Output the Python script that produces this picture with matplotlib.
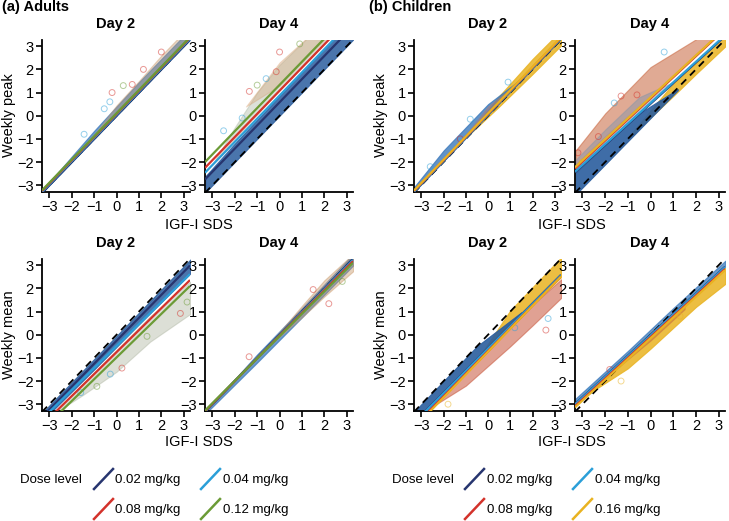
import matplotlib
matplotlib.use("Agg")
import matplotlib.pyplot as plt
from matplotlib.lines import Line2D
import numpy as np

plt.rcParams['font.family'] = ['Liberation Sans', 'DejaVu Sans']
plt.rcParams['axes.unicode_minus'] = True

# ---------------- data ----------------
ADULT_DOSES = ["0.02 mg/kg", "0.04 mg/kg", "0.08 mg/kg", "0.12 mg/kg"]
CHILD_DOSES = ["0.02 mg/kg", "0.04 mg/kg", "0.08 mg/kg", "0.16 mg/kg"]
ADULT_COLORS = ["#27356f", "#2b9fd8", "#d3322b", "#6b9b36"]
CHILD_COLORS = ["#27356f", "#2b9fd8", "#d3322b", "#e9b321"]
TICKS = [-3, -2, -1, 0, 1, 2, 3]
TICK_LABELS = ["\u22123", "\u22122", "\u22121", "0", "1", "2", "3"]

# regression lines (slope, intercept) per dose
A_PEAK_D2_SLOPE = [1.00, 1.00, 1.00, 1.00]
A_PEAK_D2_INTERCEPT = [0.00, 0.04, 0.08, 0.11]
A_PEAK_D4_SLOPE = [1.00, 1.00, 1.00, 1.00]
A_PEAK_D4_INTERCEPT = [0.58, 0.87, 1.08, 1.33]
A_MEAN_D2_SLOPE = [0.99, 0.947, 0.948, 0.94]
A_MEAN_D2_INTERCEPT = [-0.26, -0.49, -0.75, -0.98]
A_MEAN_D4_SLOPE = [1.00, 0.99, 0.98, 0.965]
A_MEAN_D4_INTERCEPT = [0.00, -0.02, -0.04, -0.06]

C_PEAK_D2_SLOPE = [1.00, 1.00, 1.00, 1.00]
C_PEAK_D2_INTERCEPT = [0.04, 0.05, 0.08, 0.10]
C_PEAK_D4_SLOPE = [0.89, 0.89, 0.91, 0.906]
C_PEAK_D4_INTERCEPT = [0.52, 0.55, 0.75, 0.79]
C_MEAN_D2_SLOPE = [0.964, 0.964, 0.98, 0.988]
C_MEAN_D2_INTERCEPT = [-0.58, -0.60, -0.70, -0.73]
C_MEAN_D4_SLOPE = [0.896, 0.896, 0.896, 0.896]
C_MEAN_D4_INTERCEPT = [-0.01, -0.03, -0.10, -0.15]

# scatter clouds as envelopes: (colour, alpha, x, lower y, upper y)
A_PEAK_D2_CLOUD = [
    ("#3a78bb", 0.75, [-3.3, -1.0, 1.0, 3.3], [-3.3, -1.0, 1.0, 3.3], [-3.2, -0.65, 1.45, 3.75]),
    ("#c99a6c", 0.40, [-1.5, 0.0, 1.0, 2.0, 3.3], [-1.45, 0.05, 1.05, 2.05, 3.35], [-1.45, 0.45, 1.5, 2.6, 3.9]),
]
A_PEAK_D4_CLOUD = [
    ("#a9b5a0", 0.40, [-3.0, -2.0, -1.0, 0.0, 1.5, 3.3], [-2.1, -1.0, 0.05, 1.1, 2.6, 4.4], [-2.1, -0.5, 1.0, 2.2, 3.6, 4.8]),
    ("#d6a070", 0.35, [-1.5, 0.0, 1.5, 3.3], [0.4, 1.3, 2.8, 4.5], [0.4, 2.3, 3.6, 4.8]),
    ("#2a5d9e", 0.85, [-3.3, -2.0, 0.0, 2.0, 3.3], [-3.3, -2.0, 0.0, 2.0, 3.3], [-2.6, -1.2, 0.85, 2.9, 4.2]),
]
A_MEAN_D2_CLOUD = [
    ("#a8b09a", 0.40, [-2.8, -1.5, 0.0, 1.5, 3.3], [-3.4, -2.6, -1.6, -0.3, 0.9], [-3.4, -2.1, -0.65, 0.8, 2.3]),
    ("#2a5d9e", 0.85, [-3.3, -1.0, 1.0, 3.3], [-3.7, -1.5, 0.45, 2.65], [-3.35, -1.05, 0.95, 3.25]),
]
A_MEAN_D4_CLOUD = [
    ("#3a78bb", 0.75, [-3.3, -1.0, 1.0, 3.3], [-3.4, -1.2, 0.75, 3.0], [-3.3, -0.85, 1.15, 3.5]),
    ("#c99a6c", 0.45, [-0.5, 1.0, 2.0, 3.3], [-0.5, 0.75, 1.65, 2.75], [-0.45, 1.25, 2.35, 3.5]),
]
C_PEAK_D2_CLOUD = [
    ("#e9b321", 0.85, [-1.0, 0.5, 2.0, 3.3], [-0.95, 0.4, 1.8, 3.05], [-0.95, 0.85, 2.45, 3.7]),
    ("#3a78bb", 0.80, [-3.3, -2.0, 0.0, 1.5], [-3.25, -1.95, 0.05, 1.55], [-3.05, -1.5, 0.5, 1.6]),
    ("#b07a70", 0.45, [-1.3, 0.0, 1.0], [-1.2, 0.1, 1.1], [-1.2, 0.4, 1.15]),
]
C_PEAK_D4_CLOUD = [
    ("#e9b321", 0.85, [-1.0, 1.0, 2.0, 3.3], [-1.0, 0.85, 1.8, 3.0], [-0.95, 1.4, 2.3, 3.5]),
    ("#c8643c", 0.55, [-3.3, -2.0, 0.0, 2.0, 3.3], [-2.1, -0.9, 0.85, 2.6, 3.8], [-1.5, 0.1, 2.1, 3.3, 4.2]),
    ("#8896a8", 0.50, [-3.3, -2.0, -0.5, 1.0], [-2.4, -1.25, 0.1, 1.4], [-1.9, -0.6, 0.8, 1.45]),
    ("#2a5d9e", 0.90, [-3.3, -2.0, -0.5, 1.2], [-3.4, -2.1, -0.6, 1.1], [-2.45, -1.25, 0.1, 1.15]),
]
C_MEAN_D2_CLOUD = [
    ("#e9b321", 0.85, [-0.5, 1.0, 2.0, 3.3], [-1.2, 0.3, 1.3, 2.5], [-1.1, 1.05, 2.05, 3.35]),
    ("#c8553a", 0.55, [-2.5, -1.0, 0.0, 1.0, 2.0, 3.3], [-3.1, -2.2, -1.35, -0.5, 0.4, 1.6], [-3.1, -1.6, -0.7, 0.3, 1.3, 2.4]),
    ("#2a5d9e", 0.90, [-3.3, -2.0, -0.5, 1.5], [-3.8, -2.55, -1.1, 0.87], [-3.3, -2.0, -0.5, 0.97]),
]
C_MEAN_D4_CLOUD = [
    ("#e9b321", 0.85, [-2.5, -1.0, 0.0, 1.0, 2.0, 3.3], [-2.4, -1.45, -0.6, 0.3, 1.2, 2.2], [-2.4, -0.95, -0.1, 0.85, 1.7, 2.9]),
    ("#c8703a", 0.50, [-1.8, 0.0, 1.5], [-1.7, -0.25, 1.1], [-1.7, 0.1, 1.4]),
    ("#3a78bb", 0.75, [-3.3, -1.0, 1.0, 3.3], [-3.0, -0.9, 0.9, 2.95], [-2.75, -0.7, 1.15, 3.2]),
]

# isolated hollow circles: x, y, dose index
A_PEAK_D2_PTS_X = [-1.45, -0.2, 0.3, 1.2, -0.55, -0.3, 2.0, 0.7]
A_PEAK_D2_PTS_Y = [-0.8, 1.0, 1.3, 2.0, 0.3, 0.6, 2.75, 1.35]
A_PEAK_D2_PTS_D = [1, 2, 3, 2, 1, 1, 2, 2]
A_PEAK_D4_PTS_X = [-2.5, -1.67, -1.35, -1.0, -0.15, 0.0, -0.6, 0.9]
A_PEAK_D4_PTS_Y = [-0.65, -0.1, 1.05, 1.32, 1.9, 2.75, 1.6, 3.1]
A_PEAK_D4_PTS_D = [1, 1, 2, 3, 2, 2, 1, 3]
A_MEAN_D2_PTS_X = [-0.28, -0.88, 0.24, 1.36, 2.85, 3.15, -1.6]
A_MEAN_D2_PTS_Y = [-1.7, -2.23, -1.44, -0.07, 0.92, 1.41, -2.5]
A_MEAN_D2_PTS_D = [1, 3, 2, 3, 2, 3, 1]
A_MEAN_D4_PTS_X = [-1.36, 2.2, 2.8, 1.5]
A_MEAN_D4_PTS_Y = [-0.95, 1.34, 2.3, 1.95]
A_MEAN_D4_PTS_D = [2, 2, 3, 2]
C_PEAK_D2_PTS_X = [-1.25, -0.8, 0.9, -2.6]
C_PEAK_D2_PTS_Y = [-1.0, -0.15, 1.45, -2.2]
C_PEAK_D2_PTS_D = [2, 1, 1, 1]
C_PEAK_D4_PTS_X = [-3.2, -2.3, -1.6, 0.6, -0.6, -3.0, -1.3]
C_PEAK_D4_PTS_Y = [-1.6, -0.9, 0.55, 2.75, 0.9, -2.0, 0.85]
C_PEAK_D4_PTS_D = [2, 2, 1, 1, 2, 3, 2]
C_MEAN_D2_PTS_X = [2.7, 2.6, 1.2, -1.8]
C_MEAN_D2_PTS_Y = [0.7, 0.2, 0.3, -3.0]
C_MEAN_D2_PTS_D = [1, 2, 1, 3]
C_MEAN_D4_PTS_X = [-1.3, -1.8, 1.3, -2.6]
C_MEAN_D4_PTS_Y = [-2.0, -1.5, 0.8, -2.4]
C_MEAN_D4_PTS_D = [3, 2, 3, 1]

XLIM = (-3.33, 3.28)
YLIM = (-3.28, 3.29)

fig = plt.figure(figsize=(7.29, 5.21), dpi=100)
W, H = 729.0, 521.0


def ax_at(x0, y0, x1, y1):
    return fig.add_axes([x0 / W, 1 - y1 / H, (x1 - x0) / W, (y1 - y0) / H])


def panel(ax, title, cloud, px, py, pd, slopes, ints, colors, ylabel=None):
    for col, al, xs, lo, hi in cloud:
        ax.fill_between(xs, lo, hi, color=col, alpha=al, linewidth=0.8,
                        edgecolor=col, zorder=1)
    ax.scatter(px, py, s=18, facecolors="none",
               edgecolors=[colors[d] for d in pd], linewidths=0.7, alpha=0.5, zorder=2)
    xx = np.array(XLIM)
    ax.plot(xx, xx, color="black", lw=1.3, ls=(0, (4, 3)), zorder=3)
    for s, b, c in zip(slopes, ints, colors):
        ax.plot(xx, s * xx + b, color=c, lw=1.6, zorder=4, solid_capstyle="butt")
    ax.set_xlim(XLIM)
    ax.set_ylim(YLIM)
    ax.set_xticks(TICKS)
    ax.set_xticklabels(TICK_LABELS)
    ax.set_yticks(TICKS)
    ax.set_yticklabels(TICK_LABELS)
    for s in ["top", "right"]:
        ax.spines[s].set_visible(False)
    for s in ["left", "bottom"]:
        ax.spines[s].set_linewidth(1.3)
    ax.tick_params(direction="out", length=4, width=1.2, labelsize=10.5, pad=2)
    ax.set_title(title, fontsize=10.5, fontweight="bold", pad=8)
    if ylabel:
        ax.set_ylabel(ylabel, fontsize=10.5, labelpad=1)
    ax.patch.set_alpha(0)


# Adults
a1 = ax_at(42, 39.5, 190, 191.7)
a2 = ax_at(205, 39.5, 353, 191.7)
a3 = ax_at(42, 258.5, 190, 410.7)
a4 = ax_at(205, 258.5, 353, 410.7)
panel(a1, "Day 2", A_PEAK_D2_CLOUD, A_PEAK_D2_PTS_X, A_PEAK_D2_PTS_Y, A_PEAK_D2_PTS_D,
      A_PEAK_D2_SLOPE, A_PEAK_D2_INTERCEPT, ADULT_COLORS, "Weekly peak")
panel(a2, "Day 4", A_PEAK_D4_CLOUD, A_PEAK_D4_PTS_X, A_PEAK_D4_PTS_Y, A_PEAK_D4_PTS_D,
      A_PEAK_D4_SLOPE, A_PEAK_D4_INTERCEPT, ADULT_COLORS)
panel(a3, "Day 2", A_MEAN_D2_CLOUD, A_MEAN_D2_PTS_X, A_MEAN_D2_PTS_Y, A_MEAN_D2_PTS_D,
      A_MEAN_D2_SLOPE, A_MEAN_D2_INTERCEPT, ADULT_COLORS, "Weekly mean")
panel(a4, "Day 4", A_MEAN_D4_CLOUD, A_MEAN_D4_PTS_X, A_MEAN_D4_PTS_Y, A_MEAN_D4_PTS_D,
      A_MEAN_D4_SLOPE, A_MEAN_D4_INTERCEPT, ADULT_COLORS)

# Children
c1 = ax_at(414, 39.5, 561, 191.7)
c2 = ax_at(575, 39.5, 725, 191.7)
c3 = ax_at(414, 258.5, 561, 410.7)
c4 = ax_at(575, 258.5, 725, 410.7)
panel(c1, "Day 2", C_PEAK_D2_CLOUD, C_PEAK_D2_PTS_X, C_PEAK_D2_PTS_Y, C_PEAK_D2_PTS_D,
      C_PEAK_D2_SLOPE, C_PEAK_D2_INTERCEPT, CHILD_COLORS, "Weekly peak")
panel(c2, "Day 4", C_PEAK_D4_CLOUD, C_PEAK_D4_PTS_X, C_PEAK_D4_PTS_Y, C_PEAK_D4_PTS_D,
      C_PEAK_D4_SLOPE, C_PEAK_D4_INTERCEPT, CHILD_COLORS)
panel(c3, "Day 2", C_MEAN_D2_CLOUD, C_MEAN_D2_PTS_X, C_MEAN_D2_PTS_Y, C_MEAN_D2_PTS_D,
      C_MEAN_D2_SLOPE, C_MEAN_D2_INTERCEPT, CHILD_COLORS, "Weekly mean")
panel(c4, "Day 4", C_MEAN_D4_CLOUD, C_MEAN_D4_PTS_X, C_MEAN_D4_PTS_Y, C_MEAN_D4_PTS_D,
      C_MEAN_D4_SLOPE, C_MEAN_D4_INTERCEPT, CHILD_COLORS)


def ftext(x, y, s, **kw):
    fig.text(x / W, 1 - y / H, s, **kw)


ftext(2, 7, "(a) Adults", fontsize=10.5, fontweight="bold", va="center", ha="left")
ftext(369, 7, "(b) Children", fontsize=10.5, fontweight="bold", va="center", ha="left")
for cx in (199, 572):
    ftext(cx, 225, "IGF-I SDS", fontsize=10.5, ha="center", va="center")
    ftext(cx, 442, "IGF-I SDS", fontsize=10.5, ha="center", va="center")


def legend(x_label, x_icons, x_texts, doses, colors):
    ftext(x_label, 480, "Dose level", fontsize=9.5, ha="left", va="center")
    rows = [479, 509]
    for i, (d, c) in enumerate(zip(doses, colors)):
        r = rows[i // 2]
        xi = x_icons[i % 2]
        fig.add_artist(Line2D([xi / W, (xi + 19) / W], [1 - (r + 10) / H, 1 - (r - 10) / H],
                              color=c, lw=1.8, transform=fig.transFigure))
        ftext(x_texts[i % 2], r + 1, d, fontsize=9.5, ha="left", va="center")


legend(20, [94, 201], [115, 223], ADULT_DOSES, ADULT_COLORS)
legend(392, [465, 573], [487, 595], CHILD_DOSES, CHILD_COLORS)

fig.savefig("out.png", dpi=100)
